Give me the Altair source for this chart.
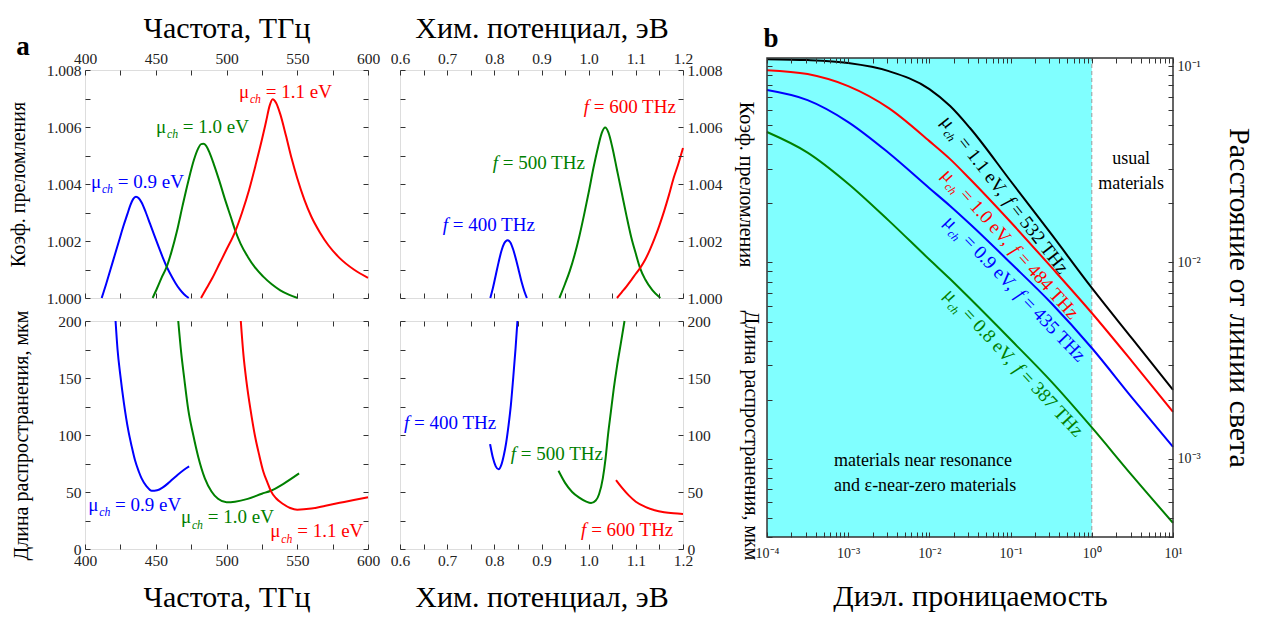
import altair as alt
import pandas as pd

FONT = "Liberation Serif"
BLUE, GREEN, RED, BLACK = "#0000ff", "#008000", "#ff0000", "#000000"
CYAN = "#80ffff"

# ---------------- panel a, top-left: index (n-1, x1e-3) vs frequency, THz
tl_blue_f = [411.8, 415, 418, 421, 424, 427, 430, 432, 434, 436, 438, 440, 443, 446, 449, 452, 455, 458, 461, 464, 467, 470, 473.3]
tl_blue_n = [0, 0.5, 1.0, 1.5, 2.0, 2.5, 2.95, 3.25, 3.47, 3.55, 3.50, 3.35, 3.0, 2.6, 2.2, 1.8, 1.42, 1.07, 0.78, 0.52, 0.3, 0.13, 0]
tl_green_f = [447.8, 451, 454, 457.7, 461, 465, 469, 473, 477, 480, 482, 483.6, 485.5, 488, 491, 495, 499, 503, 506.3, 510, 515, 520, 526, 532, 538, 544, 550.3]
tl_green_n = [0, 0.35, 0.7, 1.09, 1.6, 2.35, 3.25, 4.1, 4.85, 5.25, 5.4, 5.41, 5.35, 5.1, 4.7, 4.1, 3.45, 2.85, 2.35, 1.9, 1.45, 1.08, 0.75, 0.48, 0.27, 0.12, 0]
tl_red_f = [482, 486, 490, 495, 500, 506.3, 511, 516, 521, 525, 528, 530.5, 532.6, 535, 538, 542, 546, 550, 555, 560, 566, 572, 580, 590, 600]
tl_red_n = [0, 0.35, 0.7, 1.2, 1.7, 2.35, 3.0, 3.8, 4.75, 5.55, 6.2, 6.75, 6.97, 6.85, 6.45, 5.7, 4.9, 4.2, 3.45, 2.85, 2.3, 1.85, 1.4, 1.0, 0.71]

# ---------------- panel a, top-middle: index (n-1, x1e-3) vs chemical potential, eV
tm_blue_mu = [0.7915, 0.797, 0.803, 0.809, 0.815, 0.821, 0.828, 0.834, 0.840, 0.846, 0.852, 0.858, 0.864, 0.869]
tm_blue_n = [0, 0.35, 0.8, 1.25, 1.65, 1.92, 2.03, 1.95, 1.7, 1.35, 0.95, 0.55, 0.22, 0]
tm_green_mu = [0.938, 0.95, 0.96, 0.97, 0.98, 0.99, 1.0, 1.01, 1.02, 1.028, 1.035, 1.042, 1.05, 1.06, 1.07, 1.08, 1.09, 1.1, 1.109, 1.12, 1.135, 1.152]
tm_green_n = [0, 0.5, 0.95, 1.5, 2.15, 2.9, 3.7, 4.55, 5.3, 5.8, 5.98, 5.8, 5.3, 4.5, 3.7, 2.9, 2.15, 1.55, 1.05, 0.65, 0.28, 0]
tm_red_mu = [1.06, 1.07, 1.08, 1.09, 1.1, 1.109, 1.12, 1.13, 1.14, 1.15, 1.16, 1.17, 1.18, 1.19, 1.2]
tm_red_n = [0, 0.2, 0.4, 0.62, 0.85, 1.05, 1.35, 1.7, 2.1, 2.55, 3.05, 3.6, 4.2, 4.7, 5.26]

# ---------------- panel a, bottom-left: propagation length (um) vs frequency
bl_blue_f = [421.6, 423, 425, 427.5, 430.6, 433, 435.3, 438, 440, 443.5, 447.1, 451, 455, 460, 465, 470, 473.6]
bl_blue_L = [200, 175, 152, 128, 104, 90, 78, 68, 62, 55, 51, 51.5, 54, 59, 64.5, 69.5, 72.4]
bl_green_f = [465.9, 468, 470.1, 473, 476.5, 480, 484.7, 489.4, 494, 500, 506, 515, 525, 531.3, 540, 551.3]
bl_green_L = [200, 172, 150, 122, 100, 81, 62, 50.5, 44, 41, 41.5, 44, 48.5, 51.1, 57, 66.3]
bl_red_f = [510.1, 512, 514, 517, 520, 523, 526, 529, 531.3, 535, 540, 545, 550, 560, 570, 580, 590, 600]
bl_red_L = [200, 170, 148, 122, 100, 83, 68, 58, 51, 44.5, 39.5, 36, 34.5, 35.5, 38, 40.5, 43, 45.3]

# ---------------- panel a, bottom-middle: propagation length (um) vs chemical potential
bm_blue_mu = [0.791, 0.797, 0.803, 0.809, 0.815, 0.82, 0.825, 0.83, 0.835, 0.84, 0.845, 0.849]
bm_blue_L = [92, 80, 72.5, 70, 74, 82, 93, 108, 126, 150, 176, 200]
bm_green_mu = [0.936, 0.95, 0.965, 0.98, 0.995, 1.005, 1.015, 1.022, 1.03, 1.036, 1.041, 1.047, 1.053, 1.06, 1.068, 1.076]
bm_green_L = [68.6, 58, 50, 45, 41.5, 40.3, 42.5, 48, 62, 80, 100, 120, 140, 160, 180, 200]
bm_red_mu = [1.058, 1.07, 1.085, 1.1, 1.12, 1.14, 1.16, 1.18, 1.2]
bm_red_L = [60.4, 54, 47, 41.5, 37, 34, 32.3, 31.3, 30.7]

# ---------------- panel b: distance from the light line vs dielectric permittivity
eps = [1e-4, 3.16e-4, 1e-3, 3.16e-3, 1e-2, 0.018, 0.0316, 0.1, 0.316, 1, 3.16, 10]
b_black = [0.1085, 0.1073, 0.1036, 0.0943, 0.0764, 0.0626, 0.0484, 0.0260, 0.01397, 0.00742, 0.00408, 0.002244]
b_red = [0.0954, 0.0911, 0.0791, 0.0611, 0.0415, 0.0336, 0.0266, 0.01607, 0.00949, 0.00553, 0.00312, 0.001735]
b_blue = [0.0755, 0.0671, 0.0519, 0.0361, 0.0239, 0.0194, 0.01570, 0.00994, 0.00622, 0.00367, 0.00204, 0.001151]
b_green = [0.0462, 0.0363, 0.0252, 0.01634, 0.01035, 0.00824, 0.00655, 0.00405, 0.00248, 0.001445, 0.000819, 0.000472]

TICK = 5

# Times-metric advance widths (em) used to chain rich-text pieces
_W = {' ': .25, '=': .564, '.': .25, ',': .25, 'e': .444, 'V': .722, 'T': .611,
      'H': .722, 'z': .444, 'μ': .576, 'c': .444, 'h': .5, 'f': .333}
_WI = {'f': .278, 'c': .444, 'h': .5}


def text_width(txt, kind):
    tab = _WI if kind in ('i', 'sub') else _W
    return sum(0.5 if ch.isdigit() else tab.get(ch, _W.get(ch, .5)) for ch in txt)


def rich_text(xv, yv, parts, size, color, xs, ys, angle=0):
    """Chain styled pieces (regular / italic / subscript) along one baseline."""
    df = pd.DataFrame({'x': [xv], 'y': [yv]})
    layers, pos = [], 0.0
    for txt, kind in parts:
        s = size * 0.62 if kind == 'sub' else size
        body = txt.strip(' ')
        lead = len(txt) - len(txt.lstrip(' '))
        trail = len(txt) - len(txt.rstrip(' '))
        pos += lead * _W[' '] * s
        props = dict(text=body, font=FONT, fontSize=s, color=color, align='left',
                     baseline='alphabetic', dx=pos)
        if kind in ('i', 'sub'):
            props['fontStyle'] = 'italic'
        if kind == 'sub':
            props['dy'] = size * 0.28
        if angle:
            props['angle'] = angle
        layers.append(alt.Chart(df).mark_text(**props).encode(
            x=alt.X('x:Q', scale=xs, axis=None), y=alt.Y('y:Q', scale=ys, axis=None)))
        pos += text_width(body, kind) * s + trail * _W[' '] * s
    return layers


def anchor_mark(px, py):
    """Invisible 1px square that pins a layout edge of the panel."""
    return alt.Chart(pd.DataFrame({'v': [0]})).mark_square(size=1, opacity=0, strokeWidth=0).encode(
        x=alt.value(px), y=alt.value(py))


def axis(orient, values, labels=True, label_expr=None, title=None, title_size=20,
         title_pad=8, title_angle=None, label_size=15.5, label_pad=4, offset=-TICK):
    kw = dict(orient=orient, values=values, offset=offset, tickSize=TICK, domain=False,
              grid=False, labels=labels, labelPadding=label_pad, tickColor="#333", tickWidth=1,
              zindex=2, labelFont=FONT, labelFontSize=label_size, labelColor="#222",
              labelOverlap=False, labelFlush=False)
    if label_expr:
        kw['labelExpr'] = label_expr
    if title:
        kw.update(title=title, titleFont=FONT, titleFontSize=title_size,
                  titleFontWeight='normal', titlePadding=title_pad, titleColor='black')
        if title_angle is not None:
            kw['titleAngle'] = title_angle
    else:
        kw['title'] = None
    return alt.Axis(**kw)


def series_frame(items):
    rows = []
    for color, xs_, ys_ in items:
        rows += [{'x': a, 'y': b, 'c': color} for a, b in zip(xs_, ys_)]
    return pd.DataFrame(rows)


def curves(df, xs, ys, ax_main, ax_mirror, width=2):
    main = alt.Chart(df).mark_line(strokeWidth=width, interpolate='monotone').encode(
        x=alt.X('x:Q', scale=xs, axis=ax_main[0]), y=alt.Y('y:Q', scale=ys, axis=ax_main[1]),
        color=alt.Color('c:N', scale=None), detail='c:N')
    mirror = alt.Chart(df).mark_line(opacity=0).encode(
        x=alt.X('x:Q', scale=xs, axis=ax_mirror[0]), y=alt.Y('y:Q', scale=ys, axis=ax_mirror[1]),
        detail='c:N')
    return [main, mirror]


W, H = 283, 228
LSZ = 19

f_ticks = list(range(400, 601, 25))
f_expr = "datum.value % 50 == 0 ? datum.label : ''"
mu_ticks = [round(0.6 + 0.05 * i, 2) for i in range(13)]
mu_expr = "round(datum.value * 100) % 10 == 0 ? format(datum.value, '.1f') : ''"
n_ticks = [round(1 + 0.001 * i, 3) for i in range(9)]
n_expr = "round(datum.value * 1000) % 2 == 0 ? format(datum.value, '.3f') : ''"
L_ticks = list(range(0, 201, 25))
L_expr = "datum.value % 50 == 0 ? datum.label : ''"

fs = alt.Scale(domain=[400, 600], nice=False, zero=False)
mus = alt.Scale(domain=[0.6, 1.2], nice=False, zero=False)
ns = alt.Scale(domain=[1.0, 1.008], nice=False, zero=False)
Ls = alt.Scale(domain=[0, 200], nice=False, zero=False)

MU = [("μ", 'r'), ("ch", 'sub')]


def as_index(df):
    df['y'] = 1 + df['y'] / 1000
    return df


# ---- top-left
tl_df = as_index(series_frame([(BLUE, tl_blue_f, tl_blue_n), (GREEN, tl_green_f, tl_green_n), (RED, tl_red_f, tl_red_n)]))
tl_layers = curves(
    tl_df, fs, ns,
    (axis('top', f_ticks, label_expr=f_expr, title="Частота, ТГц", title_size=30, title_pad=8),
     axis('left', n_ticks, label_expr=n_expr, title="Коэф. преломления", title_pad=18)),
    (axis('bottom', f_ticks, labels=False), axis('right', n_ticks, labels=False)))
tl_layers += rich_text(404.2, 1.00386, MU + [(" = 0.9 eV", 'r')], LSZ, BLUE, fs, ns)
tl_layers += rich_text(450.2, 1.00579, MU + [(" = 1.0 eV", 'r')], LSZ, GREEN, fs, ns)
tl_layers += rich_text(508.8, 1.00703, MU + [(" = 1.1 eV", 'r')], LSZ, RED, fs, ns)
tl_layers.append(alt.Chart(pd.DataFrame({'t': ['a']})).mark_text(
    font=FONT, fontSize=27, fontWeight='bold', align='center', baseline='alphabetic', color='black'
).encode(text='t:N', x=alt.value(-62), y=alt.value(-15)))
tl_layers.append(anchor_mark(-80, -66))
tl = alt.layer(*tl_layers).resolve_axis(x='independent', y='independent').properties(width=W, height=H)

# ---- top-middle
tm_df = as_index(series_frame([(BLUE, tm_blue_mu, tm_blue_n), (GREEN, tm_green_mu, tm_green_n), (RED, tm_red_mu, tm_red_n)]))
tm_layers = curves(
    tm_df, mus, ns,
    (axis('top', mu_ticks, label_expr=mu_expr, title="Хим. потенциал, эВ", title_size=30, title_pad=8),
     axis('right', n_ticks, label_expr=n_expr, title="Коэф. преломления", title_pad=14, title_angle=90)),
    (axis('bottom', mu_ticks, labels=False), axis('left', n_ticks, labels=False)))
tm_layers += rich_text(0.6905, 1.00235, [("f", 'i'), (" = 400 THz", 'r')], LSZ, BLUE, mus, ns)
tm_layers += rich_text(0.7965, 1.00452, [("f", 'i'), (" = 500 THz", 'r')], LSZ, GREEN, mus, ns)
tm_layers += rich_text(0.9895, 1.00650, [("f", 'i'), (" = 600 THz", 'r')], LSZ, RED, mus, ns)
tm_layers.append(anchor_mark(W + 100, 100))
tm = alt.layer(*tm_layers).resolve_axis(x='independent', y='independent').properties(width=W, height=H)

# ---- bottom-left
bl_df = series_frame([(BLUE, bl_blue_f, bl_blue_L), (GREEN, bl_green_f, bl_green_L), (RED, bl_red_f, bl_red_L)])
bl_layers = curves(
    bl_df, fs, Ls,
    (axis('bottom', f_ticks, label_expr=f_expr, title="Частота, ТГц", title_size=30, title_pad=14),
     axis('left', L_ticks, label_expr=L_expr, title="Длина распространения, мкм", title_pad=26)),
    (axis('top', f_ticks, labels=False), axis('right', L_ticks, labels=False)))
bl_layers += rich_text(402.3, 33.4, MU + [(" = 0.9 eV", 'r')], LSZ, BLUE, fs, Ls)
bl_layers += rich_text(467.8, 22.5, MU + [(" = 1.0 eV", 'r')], LSZ, GREEN, fs, Ls)
bl_layers += rich_text(531.0, 10.2, MU + [(" = 1.1 eV", 'r')], LSZ, RED, fs, Ls)
bl = alt.layer(*bl_layers).resolve_axis(x='independent', y='independent').properties(width=W, height=H)

# ---- bottom-middle
bm_df = series_frame([(BLUE, bm_blue_mu, bm_blue_L), (GREEN, bm_green_mu, bm_green_L), (RED, bm_red_mu, bm_red_L)])
bm_layers = curves(
    bm_df, mus, Ls,
    (axis('bottom', mu_ticks, label_expr=mu_expr, title="Хим. потенциал, эВ", title_size=30, title_pad=14),
     axis('right', L_ticks, label_expr=L_expr, title="Длина распространения, мкм", title_pad=30, title_angle=90)),
    (axis('top', mu_ticks, labels=False), axis('left', L_ticks, labels=False)))
bm_layers += rich_text(0.6085, 105.1, [("f", 'i'), (" = 400 THz", 'r')], LSZ, BLUE, mus, Ls)
bm_layers += rich_text(0.835, 78.0, [("f", 'i'), (" = 500 THz", 'r')], LSZ, GREEN, mus, Ls)
bm_layers += rich_text(0.984, 11.7, [("f", 'i'), (" = 600 THz", 'r')], LSZ, RED, mus, Ls)
bm = alt.layer(*bm_layers).resolve_axis(x='independent', y='independent').properties(width=W, height=H)

# ---- panel b (its frame rises RISE px above the row's top edge)
RISE, HB = 12, 467
EPS_MIN, EPS_MAX, D_MIN, D_MAX = 1e-4, 10, 4.0e-4, 0.11
es = alt.Scale(type='log', domain=[EPS_MIN, EPS_MAX], nice=False)
ds = alt.Scale(type='log', domain=[D_MIN, D_MAX], nice=False, range=[HB, -RISE])
x_log_ticks = [m * 10.0 ** k for k in range(-4, 1) for m in range(1, 10)] + [10.0]
y_log_ticks = [v for v in (m * 10.0 ** k for k in range(-4, 0) for m in range(1, 10)) if D_MIN <= v <= D_MAX]
dec = [(0.0001, '10⁻⁴'), (0.001, '10⁻³'), (0.01, '10⁻²'), (0.1, '10⁻¹'), (1, '10⁰'), (10, '10¹')]
log_expr = " : ".join(f"abs(datum.value - {v}) < {v * 1e-6} ? '{t}'" for v, t in dec) + " : ''"

box = pd.DataFrame({'x': [EPS_MIN], 'x2': [EPS_MAX], 'y': [D_MIN], 'y2': [D_MAX]})
b_df = series_frame([(BLACK, eps, b_black), (RED, eps, b_red), (BLUE, eps, b_blue), (GREEN, eps, b_green)])
zone = alt.Chart(pd.DataFrame({'x': [EPS_MIN], 'x2': [1.0], 'y': [D_MIN], 'y2': [D_MAX]})).mark_rect(
    color=CYAN).encode(x=alt.X('x:Q', scale=es, axis=None), x2='x2:Q',
                       y=alt.Y('y:Q', scale=ds, axis=None), y2='y2:Q')
edge = alt.Chart(pd.DataFrame({'x': [1.0], 'y': [D_MIN], 'y2': [D_MAX]})).mark_rule(
    color='#9a9a9a', strokeDash=[4, 3], strokeWidth=1).encode(
    x=alt.X('x:Q', scale=es, axis=None), y=alt.Y('y:Q', scale=ds, axis=None), y2='y2:Q')
frame = alt.Chart(box).mark_rect(fillOpacity=0, stroke='#333', strokeWidth=1.5).encode(
    x=alt.X('x:Q', scale=es, axis=None), x2='x2:Q', y=alt.Y('y:Q', scale=ds, axis=None), y2='y2:Q')
b_layers = [zone, edge] + curves(
    b_df, es, ds,
    (axis('bottom', x_log_ticks, label_expr=log_expr, title="Диэл. проницаемость", title_size=30,
          title_pad=21, label_size=14, label_pad=9),
     axis('right', y_log_ticks, label_expr=log_expr, title="Расстояние от линии света", title_size=30,
          title_pad=23, title_angle=90, label_size=14)),
    (axis('top', x_log_ticks, labels=False, offset=RISE - TICK), axis('left', y_log_ticks, labels=False)))
b_layers.append(frame)
BSZ = 19
b_layers += rich_text(0.01358, 0.0521, MU + [(" = 1.1 eV, ", 'r'), ("f", 'i'), (" = 532 THz", 'r')], BSZ, BLACK, es, ds, angle=52)
b_layers += rich_text(0.01378, 0.0277, MU + [(" = 1.0 eV, ", 'r'), ("f", 'i'), (" = 484 THz", 'r')], BSZ, RED, es, ds, angle=48)
b_layers += rich_text(0.01471, 0.01594, MU + [(" = 0.9 eV, ", 'r'), ("f", 'i'), (" = 435 THz", 'r')], BSZ, BLUE, es, ds, angle=46)
b_layers += rich_text(0.01467, 0.00679, MU + [(" = 0.8 eV, ", 'r'), ("f", 'i'), (" = 387 THz", 'r')], BSZ, GREEN, es, ds, angle=47)
notes = pd.DataFrame({
    'x': [3.05, 6.7e-4], 'y': [0.0317, 9.2e-4],
    't': ["usual\nmaterials", "materials near resonance\nand ε-near-zero materials"],
    'a': ['center', 'left']})
for _, row in notes.iterrows():
    b_layers.append(alt.Chart(pd.DataFrame([row])).mark_text(
        font=FONT, fontSize=18, align=row['a'], baseline='alphabetic', lineBreak='\n',
        lineHeight=25, color='black').encode(
        x=alt.X('x:Q', scale=es, axis=None), y=alt.Y('y:Q', scale=ds, axis=None), text='t:N'))
b_layers.append(alt.Chart(pd.DataFrame({'t': ['b']})).mark_text(
    font=FONT, fontSize=27, fontWeight='bold', align='center', baseline='alphabetic', color='black'
).encode(text='t:N', x=alt.value(4), y=alt.value(-23)))
b_layers.append(anchor_mark(-15, 100))
pb = alt.layer(*b_layers).resolve_axis(x='independent', y='independent').properties(
    width=406, height=HB, view=alt.ViewBackground(stroke='transparent'))

pa = alt.concat(tl, tm, bl, bm, columns=2, bounds='flush', spacing={'row': 23, 'column': 32})

chart = alt.concat(pa, pb, columns=2, align='none', spacing=-33).properties(
    padding={'left': 4, 'top': 3, 'right': 5, 'bottom': 5}
).configure_view(stroke='#333', strokeWidth=1.5).configure(font=FONT)

chart.save("out.html", embed_options={"renderer": "svg", "actions": False})
